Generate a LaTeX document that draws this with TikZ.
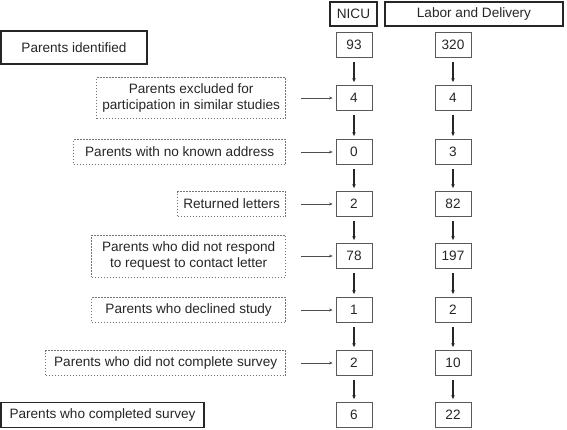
\documentclass[tikz,border=0pt]{standalone}
\usepackage{fontspec}
\setmainfont{Liberation Sans}
\usetikzlibrary{arrows.meta}

\tikzset{
  txt/.style={font=\fontsize{13.6}{15.5}\selectfont, text=black!85},
  headbox/.style={txt, draw=black!85, line width=1.2pt, minimum height=24pt, inner xsep=6pt, inner ysep=0pt},
  numbox/.style={txt, draw=black!65, line width=0.8pt, minimum width=36pt, minimum height=25pt, inner sep=0pt},
  mainbox/.style={txt, draw=black!85, line width=1.2pt, inner sep=0pt},
  exclbox/.style={txt, draw=black!55, line width=0.7pt, dash pattern=on 1.5pt off 1.5pt, align=center, minimum height=25pt, inner sep=0pt, anchor=east},
  down/.style={line width=1.2pt, black!85, -{Stealth[length=4pt, width=3.5pt]}, shorten <=4pt, shorten >=3pt},
  side/.style={line width=0.7pt, black!70, -{Stealth[length=3.5pt, width=3pt]}, shorten <=15pt, shorten >=3pt}
}

\begin{document}
\begin{tikzpicture}[x=1pt, y=-1pt]

\useasboundingbox (0,0) rectangle (567,429);

% _____ Columns
\def\ColNICU{354}
\def\ColLD{453}
\def\ExclRight{286}

% _____ Headers
\node[headbox, minimum width=47pt] (hnicu) at (353.5, 14) {NICU};
\node[headbox, minimum width=178pt] (hld) at (474, 14) {Labor and Delivery};

% _____ Left column
\node[mainbox, minimum width=146pt, minimum height=33pt] (ident) at (74, 47.5) {Parents identified};
\node[exclbox, minimum width=189pt, minimum height=41pt] (excl) at (\ExclRight, 98) {Parents excluded for\\participation in similar studies};
\node[exclbox, minimum width=212pt] (noaddr) at (\ExclRight, 152) {Parents with no known address};
\node[exclbox, minimum width=108pt] (ret) at (\ExclRight, 204) {Returned letters};
\node[exclbox, minimum width=194pt, minimum height=42pt] (noresp) at (\ExclRight, 256) {Parents who did not respond\\to request to contact letter};
\node[exclbox, minimum width=194pt] (decl) at (\ExclRight, 310) {Parents who declined study};
\node[exclbox, minimum width=240pt] (nocomp) at (\ExclRight, 363) {Parents who did not complete survey};
\node[mainbox, minimum width=203pt, minimum height=25pt] (comp) at (102.5, 415) {Parents who completed survey};

% _____ NICU numbers
\node[numbox] (n1) at (\ColNICU, 45) {93};
\node[numbox] (n2) at (\ColNICU, 98) {4};
\node[numbox] (n3) at (\ColNICU, 152) {0};
\node[numbox] (n4) at (\ColNICU, 204) {2};
\node[numbox] (n5) at (\ColNICU, 256) {78};
\node[numbox] (n6) at (\ColNICU, 310) {1};
\node[numbox] (n7) at (\ColNICU, 363) {2};
\node[numbox] (n8) at (\ColNICU, 415) {6};

% _____ Labor and Delivery numbers
\node[numbox] (l1) at (\ColLD, 45) {320};
\node[numbox] (l2) at (\ColLD, 98) {4};
\node[numbox] (l3) at (\ColLD, 152) {3};
\node[numbox] (l4) at (\ColLD, 204) {82};
\node[numbox] (l5) at (\ColLD, 256) {197};
\node[numbox] (l6) at (\ColLD, 310) {2};
\node[numbox] (l7) at (\ColLD, 363) {10};
\node[numbox] (l8) at (\ColLD, 415) {22};

% _____ Flow arrows
\draw[down] (n1) -- (n2);
\draw[down] (n2) -- (n3);
\draw[down] (n3) -- (n4);
\draw[down] (n4) -- (n5);
\draw[down] (n5) -- (n6);
\draw[down] (n6) -- (n7);
\draw[down] (n7) -- (n8);

\draw[down] (l1) -- (l2);
\draw[down] (l2) -- (l3);
\draw[down] (l3) -- (l4);
\draw[down] (l4) -- (l5);
\draw[down] (l5) -- (l6);
\draw[down] (l6) -- (l7);
\draw[down] (l7) -- (l8);

% _____ Exclusion arrows
\draw[side] (excl) -- (n2);
\draw[side] (noaddr) -- (n3);
\draw[side] (ret) -- (n4);
\draw[side] (noresp) -- (n5);
\draw[side] (decl) -- (n6);
\draw[side] (nocomp) -- (n7);

\end{tikzpicture}
\end{document}
